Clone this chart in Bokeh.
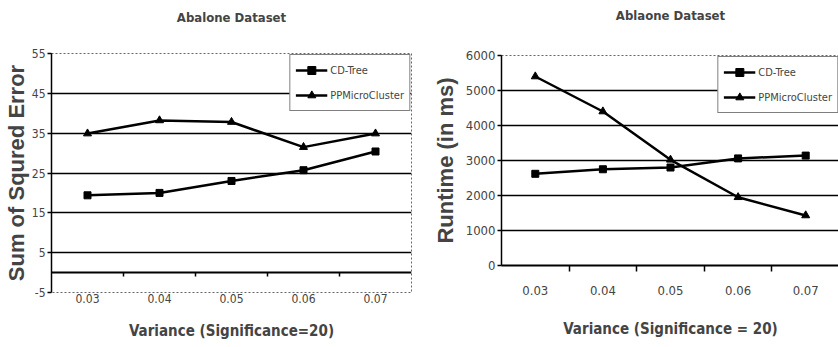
from bokeh.plotting import figure
from bokeh.layouts import row, column
from bokeh.models import FixedTicker, Span, Legend, LegendItem, Range1d, Title
from bokeh.embed import file_html
from bokeh.resources import INLINE

# ---- data ----
categories = ["0.03", "0.04", "0.05", "0.06", "0.07"]
sse_cdtree = [19.4, 20.0, 23.0, 25.7, 30.4]
sse_ppmicro = [34.9, 38.2, 37.8, 31.5, 34.9]
rt_cdtree = [2620, 2750, 2800, 3060, 3140]
rt_ppmicro = [5400, 4400, 3020, 1950, 1430]
sse_ticks = [-5, 5, 15, 25, 35, 45, 55]
rt_ticks = [0, 1000, 2000, 3000, 4000, 5000, 6000]
series_names = ["CD-Tree", "PPMicroCluster"]

NARROW = "'DejaVu Sans Condensed'"
WIDE = "Liberation Sans"

xs = list(range(1, len(categories) + 1))
bounds = [x + 0.5 for x in xs[:-1]]
overrides = {x: c for x, c in zip(xs, categories)}


def build(width, height, yr, yticks, title, xlabel, ylabel, cd, pp, borders, frame,
          tick_font, ylabel_size, ylab_standoff, xlab_standoff, xtick_standoff,
          bottom_axis_line, spacer_size):
    p = figure(width=width, height=height, x_range=Range1d(0.5, len(xs) + 0.5),
               y_range=Range1d(*yr), output_backend="svg", toolbar_location=None,
               min_border_left=borders[0], min_border_right=borders[1],
               min_border_top=borders[2], min_border_bottom=borders[3],
               frame_width=frame[0], frame_height=frame[1])
    p.background_fill_color = "white"
    p.border_fill_color = "white"
    p.outline_line_color = "#666666"
    p.outline_line_dash = "2 2"
    p.outline_line_width = 1

    p.title = None
    p.add_layout(Title(text=" ", text_font_size=spacer_size, standoff=0), "above")
    p.add_layout(Title(text=title, align="center", text_font=NARROW,
                       text_font_size="13px", text_font_style="bold", standoff=0), "above")

    # x axis
    xa = p.xaxis[0]
    xa.ticker = FixedTicker(ticks=xs, minor_ticks=bounds)
    xa.major_label_overrides = overrides
    xa.major_tick_out = 0
    xa.major_tick_in = 0
    xa.minor_tick_in = 0
    if bottom_axis_line:
        xa.axis_line_color = "black"
        xa.axis_line_width = 2
        xa.minor_tick_out = 6
        xa.minor_tick_line_color = "black"
        xa.minor_tick_line_width = 1.5
    else:
        xa.axis_line_color = None
        xa.minor_tick_out = 0
        xa.minor_tick_line_color = None
    xa.major_label_text_font = NARROW
    xa.major_label_text_font_size = tick_font
    xa.major_label_standoff = xtick_standoff
    xa.axis_label = xlabel
    xa.axis_label_text_font = NARROW
    xa.axis_label_text_font_size = "15px"
    xa.axis_label_text_font_style = "bold"
    xa.axis_label_standoff = xlab_standoff

    # y axis
    ya = p.yaxis[0]
    ya.ticker = FixedTicker(ticks=yticks)
    ya.major_label_overrides = {t: str(t) for t in yticks}
    ya.axis_line_color = "black"
    ya.axis_line_width = 1.5
    ya.major_tick_out = 4
    ya.major_tick_in = 0
    ya.major_tick_line_color = "black"
    ya.major_tick_line_width = 1.5
    ya.minor_tick_line_color = None
    ya.major_label_text_font = NARROW
    ya.major_label_text_font_size = tick_font
    ya.major_label_standoff = 2
    ya.axis_label = ylabel
    ya.axis_label_text_font = WIDE
    ya.axis_label_text_font_size = ylabel_size
    ya.axis_label_text_font_style = "bold"
    ya.axis_label_standoff = ylab_standoff

    p.xgrid.visible = False
    p.ygrid.ticker = FixedTicker(ticks=yticks[1:-1])
    p.ygrid.grid_line_color = "black"
    p.ygrid.grid_line_width = 1.5

    l1 = p.line(xs, cd, line_color="black", line_width=2.5)
    s1 = p.scatter(xs, cd, marker="square", size=7, color="black")
    l2 = p.line(xs, pp, line_color="black", line_width=2.5)
    s2 = p.scatter(xs, pp, marker="triangle", size=8, color="black")

    legend = Legend(items=[LegendItem(label=series_names[0], renderers=[l1, s1]),
                           LegendItem(label=series_names[1], renderers=[l2, s2])],
                    location="top_right", border_line_color="black",
                    border_line_width=1, background_fill_color="white",
                    background_fill_alpha=1.0, label_text_font=NARROW,
                    label_text_font_size="11px", glyph_width=32, glyph_height=20,
                    spacing=5, padding=5, margin=1, label_standoff=3)
    p.add_layout(legend)
    return p


p1 = build(418, 347, (-5, 55), sse_ticks, "Abalone Dataset",
           "Variance (Significance=20)", "Sum of Squred Error",
           sse_cdtree, sse_ppmicro, (50, 8, 53, 55), (360, 239),
           "12px", "22px", 0, 16, 1, False, "24px")
# x-axis crosses at zero on the left chart
p1.add_layout(Span(location=0, dimension="width", line_color="black", line_width=2))
p1.segment(x0=bounds, y0=[0] * len(bounds), x1=bounds, y1=[-1] * len(bounds),
           line_color="black", line_width=1.5)

p2 = build(420, 347, (0, 6000), rt_ticks, "Ablaone Dataset",
           "Variance (Significance = 20)", "Runtime (in ms)",
           rt_cdtree, rt_ppmicro, (82, 0, 55, 82), (338, 210),
           "13px", "22px", 5, 22, 14, True, "28px")

layout = row(column(p1), column(p2))
open("out.html", "w").write(file_html(layout, INLINE))
